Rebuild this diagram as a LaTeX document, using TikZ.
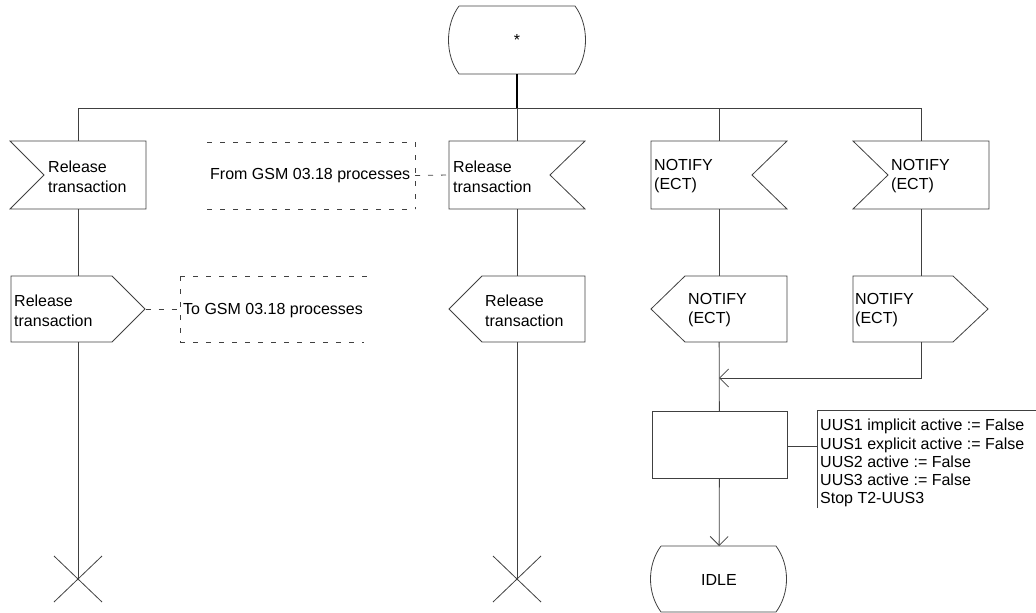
\documentclass[tikz,border=0pt]{standalone}
\usepackage{fontspec}
\setmainfont{Liberation Sans}
\usetikzlibrary{arrows.meta,calc}
\begin{document}
\begin{tikzpicture}[x=1pt,y=-1pt,
  ln/.style={draw=black!75,line width=0.8pt},
  thick stem/.style={draw=black,line width=2pt},
  dsh/.style={draw=black!75,line width=0.8pt,dash pattern=on 5pt off 8pt},
  area/.style 2 args={inner sep=0pt,outer sep=0pt,minimum width=#1,minimum height=#2},
  txt/.style={font=\fontsize{16}{19.5}\selectfont,align=left,inner sep=0pt,anchor=west},
  ctxt/.style={font=\fontsize{16}{19.5}\selectfont,inner sep=0pt},
  arr/.style={-{Straight Barb[length=9pt,width=18pt]}}
]
\useasboundingbox (0,0) rectangle (1036,613);

% ---------- start state ----------
\node[area={116pt}{68pt}] (st) at (517,40) {};
\draw[ln] (459,6) -- (575,6) .. controls (589,25) and (589,55) .. (575,74)
          -- (459,74) .. controls (445,55) and (445,25) .. (459,6);
\node[ctxt] (stt) at (517,40) {*};

\coordinate (bus) at (517,108);
\coordinate (b1) at (78,108);
\coordinate (b2) at (517,108);
\coordinate (b3) at (719,108);
\coordinate (b4) at (921,108);
\draw[thick stem] (st.south) -- (bus);
\draw[ln] (b1) -- (b4);

% ---------- input signals ----------
\node[area={136pt}{68pt}] (in1) at (78,175) {};
\draw[ln] (10,141) -- (146,141) -- (146,209) -- (10,209) -- (44,175) -- cycle;
\node[txt] (in1t) at (48,177) {Release\\transaction};

\node[area={136pt}{68pt}] (in2) at (517,175) {};
\draw[ln] (449,141) -- (585,141) -- (550,175) -- (585,209) -- (449,209) -- cycle;
\node[txt] (in2t) at (453,177) {Release\\transaction};

\node[area={136pt}{68pt}] (in3) at (719,175) {};
\draw[ln] (651,141) -- (787,141) -- (752,175) -- (787,209) -- (651,209) -- cycle;
\node[txt] (in3t) at (654,176) {NOTIFY\\(ECT)};

\node[area={136pt}{68pt}] (in4) at (921,175) {};
\draw[ln] (853,141) -- (989,141) -- (989,209) -- (853,209) -- (888,175) -- cycle;
\node[txt] (in4t) at (891,176) {NOTIFY\\(ECT)};

\foreach \i in {1,2,3,4} { \draw[ln] (b\i) -- (in\i); }

% ---------- comment: from ----------
\node[area={208pt}{67pt}] (c1) at (311,175.5) {};
\draw[dsh] (207,142) -- (415,142);
\draw[dsh] (207,209) -- (415,209);
\draw[dsh] (415,142) -- (415,209);
\node[txt] (c1t) at (210,176) {From GSM 03.18 processes};
\draw[dsh] (c1.east) -- (in2.west);

% ---------- output signals ----------
\node[area={135pt}{66pt}] (out1) at (78,309) {};
\draw[ln] (11,276) -- (112,276) -- (145,309) -- (112,342) -- (11,342) -- cycle;
\node[txt] (out1t) at (14,311) {Release\\transaction};

\node[area={136pt}{66pt}] (out2) at (517,309) {};
\draw[ln] (449,309) -- (482,276) -- (585,276) -- (585,342) -- (482,342) -- cycle;
\node[txt] (out2t) at (485,311) {Release\\transaction};

\node[area={136pt}{66pt}] (out3) at (719,309) {};
\draw[ln] (651,309) -- (685,276) -- (787,276) -- (787,342) -- (685,342) -- cycle;
\node[txt] (out3t) at (688,310) {NOTIFY\\(ECT)};

\node[area={135pt}{66pt}] (out4) at (921,309) {};
\draw[ln] (853,276) -- (953,276) -- (988,309) -- (953,342) -- (853,342) -- cycle;
\node[txt] (out4t) at (855,310) {NOTIFY\\(ECT)};

\foreach \i in {1,2,3,4} { \draw[ln] (in\i) -- (out\i); }

% ---------- comment: to ----------
\node[area={190pt}{66pt}] (c2) at (275,309) {};
\draw[dsh] (180,276) -- (372,276);
\draw[dsh] (180,342) -- (364,342);
\draw[dsh] (180,276) -- (180,342);
\node[txt] (c2t) at (183,311) {To GSM 03.18 processes};
\draw[dsh] (out1.east) -- (c2.west);

% ---------- terminations ----------
\coordinate (x1) at (78,579);
\coordinate (x2) at (517,579);
\draw[ln] (out1) -- (x1);
\draw[ln] (out2) -- (x2);
\draw[ln] (54,556) -- (102,602) (54,602) -- (102,556);
\draw[ln] (493,556) -- (541,602) (493,602) -- (541,556);

% ---------- merge and task ----------
\coordinate (j) at (719,378);
\coordinate (j4) at (921,378);
\node[area={135pt}{67pt}, draw=black!75, line width=0.8pt] (task) at (719.5,444.5) {};
\draw[ln] (out3) -- (task);
\draw[ln, arr] (out4) -- (j4) -- (j);

% annotation
\coordinate (an) at (817,446);
\draw[ln] (task.east |- an) -- (an);
\draw[ln] (817,508) -- (817,410) -- (1036,410);
\node[font=\fontsize{16}{18.3}\selectfont, align=left, inner sep=0pt, anchor=north west] (ant) at (820,419)
  {UUS1 implicit active := False\\UUS1 explicit active := False\\UUS2 active := False\\UUS3 active := False\\Stop T2-UUS3};

% ---------- IDLE ----------
\node[area={115pt}{66pt}] (idle) at (719,579) {};
\draw[ln] (661,546) -- (776,546) .. controls (790,565) and (790,593) .. (776,612)
          -- (661,612) .. controls (647,593) and (647,565) .. (661,546);
\node[ctxt] (idlet) at (719,580) {IDLE};
\draw[ln, arr] (task) -- (idle);
\end{tikzpicture}
\end{document}
